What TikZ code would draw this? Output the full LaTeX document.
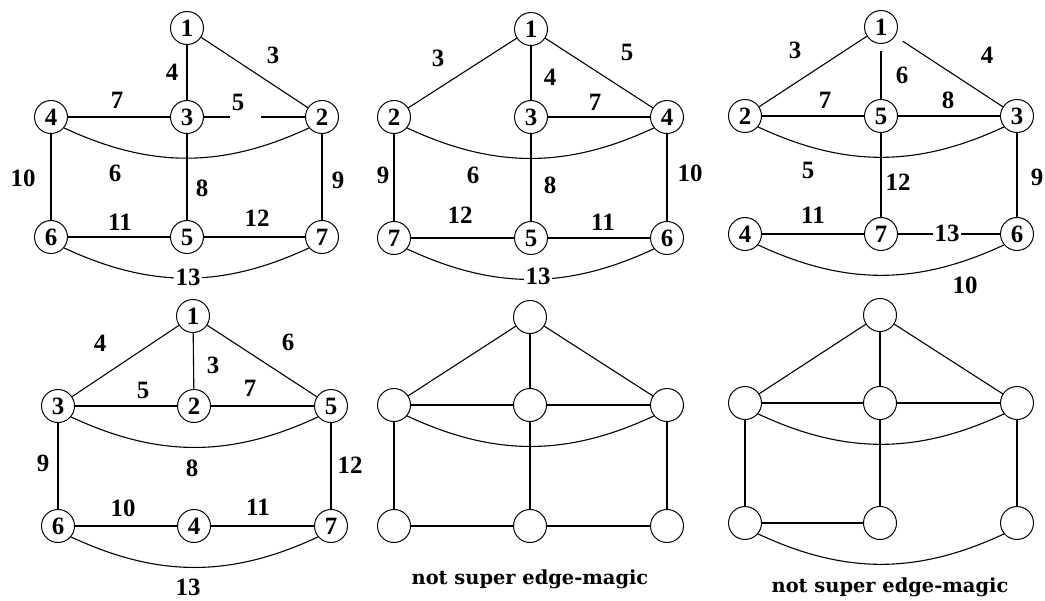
\documentclass[tikz,border=0pt]{standalone}
\usepackage{fontspec}
\setmainfont{Liberation Serif}
\newfontfamily\capfont{DejaVu Serif}
\begin{document}
\begin{tikzpicture}[x=1bp,y=1bp,
  vertex/.style={circle,draw,line width=1bp,minimum size=33bp,inner sep=0pt,
                 font=\bfseries\fontsize{25}{25}\selectfont},
  lbl/.style={inner sep=1pt,font=\bfseries\fontsize{25}{25}\selectfont},
  onedge/.style={lbl,fill=white,inner sep=2pt},
  caption/.style={font=\capfont\bfseries\fontsize{19.5}{20}\selectfont},
  edge/.style={line width=1.1bp},
  sag/.style={edge,out=-25,in=-155}]
\useasboundingbox (0,0) rectangle (1045,-601);

% ---------- graph A ----------
\node[vertex] (A1) at (187,-28) {1};
\node[vertex] (A4) at (51,-117) {4};
\node[vertex] (A3) at (187,-117) {3};
\node[vertex] (A2) at (322,-117) {2};
\node[vertex] (A6) at (51,-237) {6};
\node[vertex] (A5) at (187,-237) {5};
\node[vertex] (A7) at (322,-237) {7};
\coordinate (Agl) at (230,-117);
\coordinate (Agr) at (261,-117);
\draw[edge] (A1) -- (A3);
\draw[edge] (A1) -- (A2);
\draw[edge] (A4) -- (A3);
\draw[edge] (A3) -- (Agl);
\draw[edge] (Agr) -- (A2);
\draw[sag] (A4.-40) to (A2.-140);
\draw[edge] (A3) -- (A5);
\draw[edge] (A4) -- (A6);
\draw[edge] (A2) -- (A7);
\draw[edge] (A6) -- (A5);
\draw[edge] (A5) -- (A7);
\draw[sag] (A6.-40) to (A7.-140);
\node[lbl] (Al3) at (273,-55) {3};
\node[lbl] (Al4) at (172,-72) {4};
\node[lbl] (Al7) at (117,-100) {7};
\node[lbl] (Al5) at (238,-102) {5};
\node[lbl] (Al6) at (115,-173) {6};
\node[lbl] (Al10) at (23,-178) {10};
\node[lbl] (Al8) at (202,-188) {8};
\node[lbl] (Al9) at (338,-180) {9};
\node[lbl] (Al11) at (120,-222) {11};
\node[lbl] (Al12) at (257,-218) {12};
\node[onedge] (Al13) at (188,-277) {13};

% ---------- graph B ----------
\node[vertex] (B1) at (531,-29) {1};
\node[vertex] (B2) at (394,-117) {2};
\node[vertex] (B3) at (531,-117) {3};
\node[vertex] (B4) at (667,-117) {4};
\node[vertex] (B7) at (394,-238) {7};
\node[vertex] (B5) at (531,-238) {5};
\node[vertex] (B6) at (667,-238) {6};
\draw[edge] (B1) -- (B2);
\draw[edge] (B1) -- (B3);
\draw[edge] (B1) -- (B4);
\draw[edge] (B3) -- (B4);
\draw[sag] (B2.-40) to (B4.-140);
\draw[edge] (B3) -- (B5);
\draw[edge] (B2) -- (B7);
\draw[edge] (B4) -- (B6);
\draw[edge] (B7) -- (B5);
\draw[edge] (B5) -- (B6);
\draw[sag] (B7.-40) to (B6.-140);
\node[lbl] (Bl3) at (438,-58) {3};
\node[lbl] (Bl4) at (550,-77) {4};
\node[lbl] (Bl5) at (627,-52) {5};
\node[lbl] (Bl7) at (595,-102) {7};
\node[lbl] (Bl6) at (473,-175) {6};
\node[lbl] (Bl8) at (550,-185) {8};
\node[lbl] (Bl9) at (383,-175) {9};
\node[lbl] (Bl10) at (690,-173) {10};
\node[lbl] (Bl12) at (460,-215) {12};
\node[lbl] (Bl11) at (603,-222) {11};
\node[onedge] (Bl13) at (538,-276) {13};

% ---------- graph C ----------
\node[vertex] (C1) at (881,-27) {1};
\node[vertex] (C2) at (745,-116) {2};
\node[vertex] (C5) at (881,-116) {5};
\node[vertex] (C3) at (1017,-116) {3};
\node[vertex] (C4) at (745,-234) {4};
\node[vertex] (C7) at (881,-234) {7};
\node[vertex] (C6) at (1017,-234) {6};
\draw[edge] (C1) -- (C2);
\draw[edge,shorten <=7bp] (C1) -- (C5);
\draw[edge,shorten <=9bp] (C1) -- (C3);
\draw[edge] (C2) -- (C5);
\draw[edge] (C5) -- (C3);
\draw[sag] (C2.-40) to (C3.-140);
\draw[edge] (C5) -- (C7);
\draw[edge] (C3) -- (C6);
\draw[edge] (C4) -- (C7);
\draw[edge] (C7) -- (C6);
\draw[sag] (C4.-40) to (C6.-140);
\node[lbl] (Cl3) at (795,-50) {3};
\node[lbl] (Cl4) at (987,-55) {4};
\node[lbl] (Cl6) at (902,-75) {6};
\node[lbl] (Cl7) at (825,-100) {7};
\node[lbl] (Cl8) at (948,-100) {8};
\node[lbl] (Cl5) at (808,-170) {5};
\node[lbl] (Cl12) at (898,-182) {12};
\node[lbl] (Cl9) at (1037,-177) {9};
\node[lbl] (Cl11) at (813,-215) {11};
\node[onedge] (Cl13) at (947,-233) {13};
\node[lbl] (Cl10) at (965,-285) {10};

% ---------- graph D ----------
\node[vertex] (D1) at (193,-316) {1};
\node[vertex] (D3) at (58,-406) {3};
\node[vertex] (D2) at (194,-406) {2};
\node[vertex] (D5) at (331,-406) {5};
\node[vertex] (D6) at (58,-526) {6};
\node[vertex] (D4) at (194,-526) {4};
\node[vertex] (D7) at (331,-526) {7};
\draw[edge] (D1) -- (D3);
\draw[edge] (D1) -- (D2);
\draw[edge] (D1) -- (D5);
\draw[edge] (D3) -- (D2);
\draw[edge] (D2) -- (D5);
\draw[sag] (D3.-40) to (D5.-140);
\draw[edge] (D3) -- (D6);
\draw[edge] (D5) -- (D7);
\draw[edge] (D6) -- (D4);
\draw[edge] (D4) -- (D7);
\draw[sag] (D6.-40) to (D7.-140);
\node[lbl] (Dl4) at (100,-343) {4};
\node[lbl] (Dl6) at (288,-342) {6};
\node[lbl] (Dl3) at (213,-365) {3};
\node[lbl] (Dl5) at (143,-390) {5};
\node[lbl] (Dl7) at (250,-388) {7};
\node[lbl] (Dl8) at (192,-468) {8};
\node[lbl] (Dl9) at (43,-463) {9};
\node[lbl] (Dl12) at (350,-465) {12};
\node[lbl] (Dl10) at (123,-508) {10};
\node[lbl] (Dl11) at (258,-507) {11};
\node[lbl] (Dl13) at (188,-587) {13};

% ---------- graph E (unlabelled) ----------
\node[vertex] (Et) at (530,-317) {};
\node[vertex] (Eml) at (394,-405) {};
\node[vertex] (Emm) at (530,-405) {};
\node[vertex] (Emr) at (667,-405) {};
\node[vertex] (Ebl) at (394,-526) {};
\node[vertex] (Ebm) at (530,-526) {};
\node[vertex] (Ebr) at (667,-526) {};
\draw[edge] (Et) -- (Eml);
\draw[edge] (Et) -- (Emm);
\draw[edge] (Et) -- (Emr);
\draw[edge] (Eml) -- (Emm);
\draw[edge] (Emm) -- (Emr);
\draw[sag] (Eml.-40) to (Emr.-140);
\draw[edge] (Eml) -- (Ebl);
\draw[edge] (Emm) -- (Ebm);
\draw[edge] (Emr) -- (Ebr);
\draw[edge] (Ebl) -- (Ebm);
\draw[edge] (Ebm) -- (Ebr);
\node[caption] (Ecap) at (530,-579) {not super edge-magic};

% ---------- graph F (unlabelled) ----------
\node[vertex] (Ft) at (880,-315) {};
\node[vertex] (Fml) at (745,-403) {};
\node[vertex] (Fmm) at (880,-403) {};
\node[vertex] (Fmr) at (1017,-403) {};
\node[vertex] (Fbl) at (745,-523) {};
\node[vertex] (Fbm) at (880,-523) {};
\node[vertex] (Fbr) at (1017,-523) {};
\draw[edge] (Ft) -- (Fml);
\draw[edge] (Ft) -- (Fmm);
\draw[edge] (Ft) -- (Fmr);
\draw[edge] (Fml) -- (Fmm);
\draw[edge] (Fmm) -- (Fmr);
\draw[sag] (Fml.-40) to (Fmr.-140);
\draw[edge] (Fml) -- (Fbl);
\draw[edge] (Fmm) -- (Fbm);
\draw[edge] (Fmr) -- (Fbr);
\draw[edge] (Fbl) -- (Fbm);
\draw[sag] (Fbl.-40) to (Fbr.-140);
\node[caption] (Fcap) at (890,-587) {not super edge-magic};
\end{tikzpicture}
\end{document}
